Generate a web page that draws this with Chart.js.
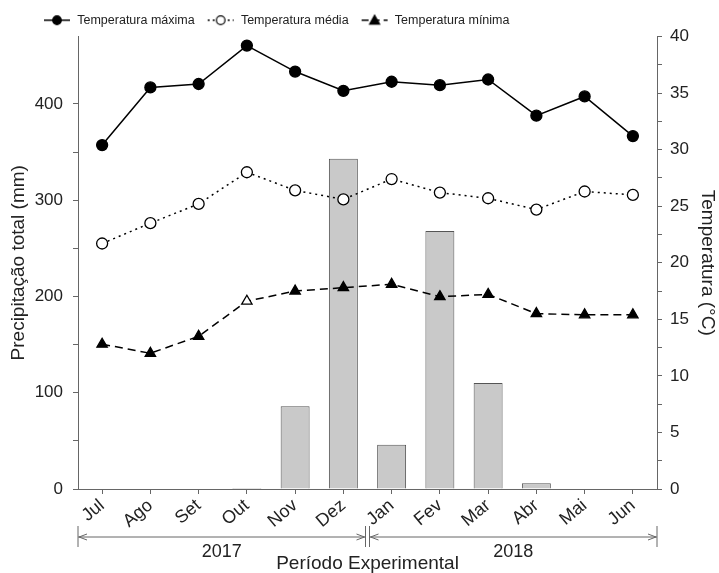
<!DOCTYPE html>
<html>
<head>
<meta charset="utf-8">
<script src="https://cdn.jsdelivr.net/npm/chart.js@4"></script>
<style>
  html, body { margin: 0; padding: 0; background: #fff; }
  #wrap { width: 719px; height: 573px; }
</style>
</head>
<body>
<div id="wrap"><canvas id="chart" width="719" height="573"></canvas></div>
<script>
/* ================= DATA ================= */
const months = ['Jul', 'Ago', 'Set', 'Out', 'Nov', 'Dez', 'Jan', 'Fev', 'Mar', 'Abr', 'Mai', 'Jun'];
const precipitation = [0, 0, 0, 1, 86, 343, 46, 268, 110, 6, 0, 0];
const tempMax = [30.4, 35.5, 35.8, 39.2, 36.9, 35.2, 36.0, 35.7, 36.2, 33.0, 34.7, 31.2];
const tempMed = [21.7, 23.5, 25.2, 28.0, 26.4, 25.6, 27.4, 26.2, 25.7, 24.7, 26.3, 26.0];
const tempMin = [12.8, 12.0, 13.5, 16.6, 17.5, 17.8, 18.1, 17.0, 17.2, 15.5, 15.4, 15.4];
const years = ['2017', '2018'];
const yearRanges = [[0, 5], [6, 11]];

/* ================= STYLE ================= */
const FONT = 'Liberation Sans, Arial, sans-serif';
const TEXT = '#222';
const AXIS = '#666';

// legend symbol: short line with the marker in the middle
function legendSymbol(dash, marker, fill) {
    const c = document.createElement('canvas');
    c.width = 28; c.height = 14;
    const ctx = c.getContext('2d');
    ctx.strokeStyle = '#000';
    ctx.lineWidth = 1.5;
    ctx.setLineDash(dash);
    ctx.beginPath();
    ctx.moveTo(1, 7); ctx.lineTo(27, 7);
    ctx.stroke();
    ctx.setLineDash([]);
    ctx.fillStyle = fill;
    ctx.beginPath();
    if (marker === 'circle') {
        ctx.arc(14, 7, 4.3, 0, Math.PI * 2);
    } else {
        ctx.moveTo(14, 2); ctx.lineTo(19, 11); ctx.lineTo(9, 11); ctx.closePath();
    }
    ctx.fill();
    ctx.lineWidth = 1.2;
    ctx.stroke();
    return c;
}

const symbols = [
    legendSymbol([], 'circle', '#000'),
    legendSymbol([2, 3], 'circle', '#fff'),
    legendSymbol([7, 4], 'triangle', '#000')
];

/* ================= PLUGINS ================= */
const legendShift = {
    id: 'legendShift',
    afterLayout(chart) {
        chart.legend.left = 31;
    }
};

const yearBrackets = {
    id: 'yearBrackets',
    afterDraw(chart) {
        const x = chart.scales.x;
        const ctx = chart.ctx;
        const y = 537;
        ctx.save();
        ctx.strokeStyle = AXIS;
        ctx.lineWidth = 1;
        ctx.fillStyle = TEXT;
        ctx.font = '18px ' + FONT;
        ctx.textAlign = 'center';
        ctx.textBaseline = 'middle';
        yearRanges.forEach((r, i) => {
            const half = (x.getPixelForTick(1) - x.getPixelForTick(0)) / 2;
            let a = x.getPixelForTick(r[0]) - half;
            let b = x.getPixelForTick(r[1]) + half;
            if (i > 0) a += 2;
            if (i < yearRanges.length - 1) b -= 2;
            ctx.beginPath();
            ctx.moveTo(a, y - 11); ctx.lineTo(a, y + 10);
            ctx.moveTo(b, y - 11); ctx.lineTo(b, y + 10);
            ctx.moveTo(a, y); ctx.lineTo(b, y);
            ctx.moveTo(a + 9, y - 3); ctx.lineTo(a + 1, y); ctx.lineTo(a + 9, y + 3);
            ctx.moveTo(b - 9, y - 3); ctx.lineTo(b - 1, y); ctx.lineTo(b - 9, y + 3);
            ctx.stroke();
            ctx.fillText(years[i], (a + b) / 2, y + 15);
        });
        ctx.restore();
    }
};

/* ================= CHART ================= */
const lineBase = {
    type: 'line',
    yAxisID: 'y1',
    borderColor: '#000',
    borderWidth: 1.5,
    pointRadius: 5.5,
    pointBorderColor: '#000',
    pointBorderWidth: 1.3,
    pointHoverRadius: 5.5,
    tension: 0,
    order: 0
};

new Chart(document.getElementById('chart'), {
    data: {
        labels: months,
        datasets: [
            { ...lineBase, label: 'Temperatura máxima', data: tempMax,
              pointStyle: 'circle', pointBackgroundColor: '#000' },
            { ...lineBase, label: 'Temperatura média', data: tempMed,
              pointStyle: 'circle', pointBackgroundColor: '#fff', borderDash: [2, 4] },
            { ...lineBase, label: 'Temperatura mínima', data: tempMin,
              pointStyle: 'triangle', pointRadius: 6, borderDash: [8, 5],
              pointBackgroundColor: tempMin.map((v, i) => i === 3 ? '#fff' : '#000') },
            { type: 'bar', label: 'Precipitação', data: precipitation, yAxisID: 'y',
              backgroundColor: '#c9c9c9', borderColor: '#555', borderWidth: 1,
              barPercentage: 0.6, categoryPercentage: 1, order: 1 }
        ]
    },
    options: {
        responsive: false,
        animation: false,
        layout: { padding: { top: 2, right: 0, bottom: 0, left: 0 } },
        plugins: {
            tooltip: { enabled: false },
            legend: {
                position: 'top',
                align: 'start',
                labels: {
                    usePointStyle: true,
                    pointStyleWidth: 28,
                    padding: 12,
                    color: TEXT,
                    font: { family: FONT, size: 12.5 },
                    generateLabels: chart => chart.data.datasets.slice(0, 3).map((ds, i) => ({
                        text: ds.label,
                        pointStyle: symbols[i],
                        datasetIndex: i,
                        fontColor: TEXT,
                        lineWidth: 0,
                        strokeStyle: 'transparent',
                        fillStyle: 'transparent'
                    }))
                }
            }
        },
        scales: {
            x: {
                offset: true,
                grid: { offset: false, drawOnChartArea: false, drawTicks: true, tickLength: 5, color: AXIS },
                border: { display: true, color: AXIS },
                ticks: { color: TEXT, font: { family: FONT, size: 18 }, minRotation: 40, maxRotation: 40, padding: 1 },
                title: { display: true, text: 'Período Experimental', color: TEXT,
                         font: { family: FONT, size: 19 }, padding: { top: 0, bottom: -2 } },
                afterFit: s => { s.height = 84; }
            },
            y: {
                position: 'left',
                min: 0,
                max: 470,
                grid: { drawOnChartArea: false, tickLength: 5, color: AXIS },
                border: { display: true, color: AXIS },
                ticks: { stepSize: 50, color: TEXT, padding: 10, font: { family: FONT, size: 17 },
                         callback: v => v % 100 === 0 ? v : '' },
                afterBuildTicks: s => { s.ticks = s.ticks.filter(t => t.value % 50 === 0); },
                title: { display: true, text: 'Precipitação total (mm)', color: TEXT,
                         font: { family: FONT, size: 19 }, padding: { top: 7, bottom: 0 } },
                afterFit: s => { s.width = 78; }
            },
            y1: {
                position: 'right',
                min: 0,
                max: 40,
                grid: { drawOnChartArea: false, tickLength: 5, color: AXIS },
                border: { display: true, color: AXIS },
                ticks: { stepSize: 2.5, color: TEXT, padding: 8, font: { family: FONT, size: 17 },
                         callback: v => v % 5 === 0 ? v : '' },
                title: { display: true, text: 'Temperatura (°C)', color: TEXT,
                         font: { family: FONT, size: 19 }, padding: { top: 0, bottom: 0 } },
                afterFit: s => { s.width = 62; }
            }
        }
    },
    plugins: [legendShift, yearBrackets]
});
</script>
</body>
</html>
